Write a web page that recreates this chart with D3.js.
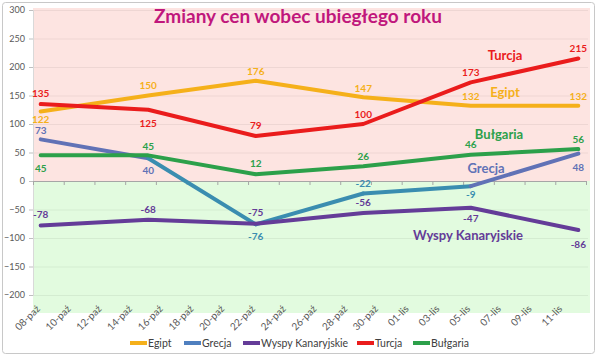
<!DOCTYPE html>
<html><head><meta charset="utf-8">
<script src="https://cdn.jsdelivr.net/npm/d3@7"></script>
<style>
html,body{margin:0;padding:0;background:#fff;}
svg{display:block;font-family:Lato,"Open Sans",sans-serif;}
</style></head>
<body><svg id="chart" width="600" height="360"></svg>
<script>
// ---- data ----
const title = "Zmiany cen wobec ubiegłego roku";
const pointDates = ["2013-10-08","2013-10-15","2013-10-22","2013-10-29","2013-11-05","2013-11-12"];
const egipt = [122,150,176,147,132,132];
const grecja = [73,40,-76,-22,-9,48];
const wyspy = [-78,-68,-75,-56,-47,-86];
const turcja = [135,125,79,100,173,215];
const bulgaria = [45,45,12,26,46,56];
const tickLabels = ["08-paź","10-paź","12-paź","14-paź","16-paź","18-paź","20-paź","22-paź","24-paź","26-paź","28-paź","30-paź","01-lis","03-lis","05-lis","07-lis","09-lis","11-lis"];
const yTicks = [-200,-150,-100,-50,0,50,100,150,200,250,300];

// ---- layout ----
const svg = d3.select("#chart");
const L = 33, R = 586, T = 10, B = 295;
const parse = d3.utcParse("%Y-%m-%d");
const dates = pointDates.map(parse);
const x = d3.scaleUtc().domain([parse("2013-10-08"), parse("2013-11-13")]).range([L, R]);
const xc = d3.scaleUtc().domain([d3.utcHour.offset(parse("2013-10-08"), -12), d3.utcHour.offset(parse("2013-11-13"), -12)]).range([L, R]);
const y = d3.scaleLinear().domain([-200, 300]).range([B, T]);

// outer border
svg.append("rect").attr("x",2.5).attr("y",2.5).attr("width",592).attr("height",351)
  .attr("rx",3).attr("fill","#fff").attr("stroke","#c8c8c8");

// backgrounds
svg.append("rect").attr("x",L).attr("y",y(300)-2).attr("width",590-L).attr("height",y(0)-y(300)+2).attr("fill","#fde4e1");
svg.append("rect").attr("x",L).attr("y",y(0)).attr("width",590-L).attr("height",313-y(0)).attr("fill","#e2fbdf");

// gridlines
svg.append("g").selectAll("line").data(yTicks.filter(v=>v!==0)).join("line")
  .attr("x1",L).attr("x2",588).attr("y1",d=>y(d)+0.5).attr("y2",d=>y(d)+0.5)
  .attr("stroke","#000").attr("stroke-opacity",0.06);

// y axis
const yAxis = svg.append("g").attr("transform",`translate(${L},0)`)
  .call(d3.axisLeft(y).tickValues(yTicks).tickSize(4).tickPadding(4));
yAxis.select(".domain").attr("stroke","#d9d9d9");
yAxis.selectAll(".tick line").attr("stroke","#bfbfbf");
yAxis.selectAll("text").attr("fill","#595959").style("font-size","9px").style("font-family","Lato,sans-serif");

// zero axis with ticks at 2-day boundaries
const tickDates = d3.utcDay.range(parse("2013-10-08"), parse("2013-11-14"), 2);
const xAxis = svg.append("g").attr("transform",`translate(0,${y(0)})`)
  .call(d3.axisBottom(x).tickValues(tickDates).tickSize(4).tickFormat(""));
xAxis.select(".domain").attr("stroke","#a6a6a6");
xAxis.selectAll(".tick line").attr("stroke","#a6a6a6");

// x labels
const labelDates = d3.utcDay.range(parse("2013-10-08"), parse("2013-11-12"), 2);
const xl = svg.append("g").attr("transform",`translate(-3,${B+12})`)
  .call(d3.axisBottom(xc).tickValues(labelDates).tickSize(0).tickFormat((d,i)=>tickLabels[i]));
xl.select(".domain").remove();
xl.selectAll("text").attr("fill","#595959").style("font-size","10px").style("font-family","Lato,sans-serif")
  .attr("text-anchor","end").attr("dy","0.35em").attr("y",0).attr("transform","rotate(-45)");

// series
const series = [
  {name:"Egipt", values:egipt, color:"#f5b01a", off:[8,-10,-9,-9,-9,-9]},
  {name:"Grecja", values:grecja, color:"#6172b6", off:[-9,12,12,-10,8,14]},
  {name:"Wyspy Kanaryjskie", values:wyspy, color:"#643c98", off:[-11,-10,-11,-10,11,14]},
  {name:"Turcja", values:turcja, color:"#ea1c1c", off:[-11,14,-10,-10,-10,-10]},
  {name:"Bułgaria", values:bulgaria, color:"#2ca04a", off:[13,-9,-11,-10,-10,-10]}
];
const grecjaTeal = "#3a8db0";
const px = i => xc(dates[i]);

const lines = svg.append("g");
series.forEach(s=>{
  if(s.name==="Grecja"){
    for(let i=1;i<s.values.length;i++){
      lines.append("line").attr("x1",px(i-1)).attr("y1",y(s.values[i-1]))
        .attr("x2",px(i)).attr("y2",y(s.values[i]))
        .attr("stroke", s.values[i]<0 ? grecjaTeal : s.color)
        .attr("stroke-width",4).attr("stroke-linecap","round");
    }
  } else {
    lines.append("path").datum(s.values)
      .attr("d", d3.line().x((d,i)=>px(i)).y(d=>y(d)))
      .attr("fill","none").attr("stroke",s.color).attr("stroke-width",4)
      .attr("stroke-linejoin","round").attr("stroke-linecap","round");
  }
});

// data labels
const labels = svg.append("g").style("font-size","10px").style("font-weight","bold");
series.forEach(s=>{
  s.values.forEach((v,i)=>{
    let c = s.color;
    if(s.name==="Grecja" && v<0) c = grecjaTeal;
    labels.append("text").attr("x",px(i)).attr("y",y(v)+s.off[i])
      .attr("text-anchor","middle").attr("dy","0.35em").attr("fill",c).text(v);
  });
});

// series name callouts
const callouts = [
  {t:"Turcja", x:505, y:55, c:"#ea1c1c"},
  {t:"Egipt", x:505, y:92, c:"#f5b01a"},
  {t:"Bułgaria", x:499, y:134, c:"#2ca04a"},
  {t:"Grecja", x:486, y:168, c:"#6172b6"},
  {t:"Wyspy Kanaryjskie", x:468, y:235, c:"#643c98"}
];
svg.append("g").selectAll("text").data(callouts).join("text")
  .attr("x",d=>d.x).attr("y",d=>d.y).attr("dy","0.35em").attr("text-anchor","middle")
  .attr("fill",d=>d.c).style("font-size","13px").style("font-weight","bold").text(d=>d.t);

// title
svg.append("text").attr("x",298).attr("y",23).attr("text-anchor","middle")
  .attr("fill","#c0177c").style("font-size","19px").style("font-weight","bold").text(title);

// legend
const leg = svg.append("g").attr("transform","translate(0,343)");
const legX = [130, 184, 243, 357, 413];
series.forEach((s,i)=>{
  leg.append("line").attr("x1",legX[i]).attr("x2",legX[i]+17).attr("y1",0).attr("y2",0)
    .attr("stroke", s.name==="Grecja" ? "#4f7fbf" : s.color).attr("stroke-width",4);
  leg.append("text").attr("x",legX[i]+18).attr("y",0).attr("dy","0.35em")
    .attr("fill","#404040").style("font-size","10.5px").text(s.name);
});
</script></body></html>
